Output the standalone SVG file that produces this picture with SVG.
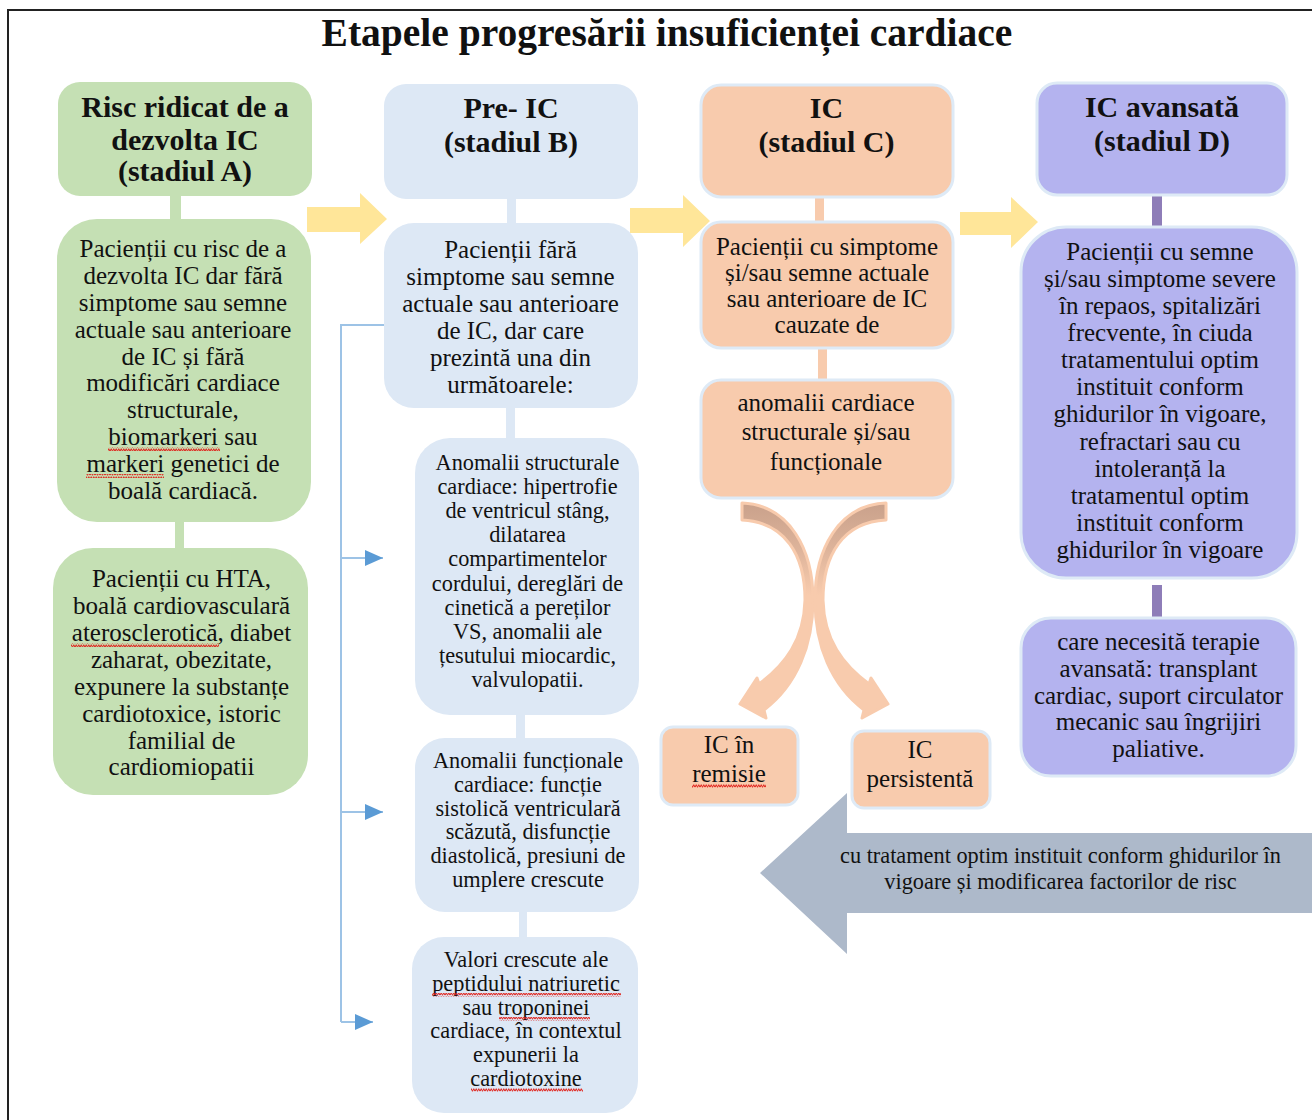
<svg xmlns="http://www.w3.org/2000/svg" width="1312" height="1120" viewBox="0 0 1312 1120">
<style>
.t{font-family:"Liberation Serif","Times New Roman",serif;fill:#111;text-anchor:middle}
.ti{font-size:39.5px;font-weight:bold}
.h{font-size:30px;font-weight:bold}
.b{font-size:25px}
.s{font-size:22.3px}
.gr{fill:#C5E0B4}
.bl{fill:#DDE8F5}
.pe{fill:#F8CBAD;stroke:#DEEAF6;stroke-width:3}
.pu{fill:#B4B3EF;stroke:#DEEAF6;stroke-width:3}
.ya{fill:#FFE699}
.br{fill:none;stroke:#9DC3E6;stroke-width:2}
.sq{fill:url(#squig)}
</style>
<defs>
<pattern id="squig" patternUnits="userSpaceOnUse" width="5" height="4">
<polyline points="0,3.3 1.25,0.7 2.5,3.3 3.75,0.7 5,3.3" fill="none" stroke="#E0201A" stroke-width="1"/>
</pattern>
<marker id="ah" viewBox="0 0 18 16" refX="18" refY="8" markerWidth="18" markerHeight="16" markerUnits="userSpaceOnUse" orient="auto">
<path d="M0 0 L18 8 L0 16 Z" fill="#5B9BD5"/>
</marker>
<linearGradient id="cg" gradientUnits="userSpaceOnUse" x1="0" y1="503" x2="0" y2="595">
<stop offset="0" stop-color="#C9A18B"/>
<stop offset="0.5" stop-color="#DDB39A"/>
<stop offset="1" stop-color="#F8CBAD"/>
</linearGradient>
</defs>
<rect x="0" y="0" width="1312" height="1120" fill="#fff"/>
<rect x="8" y="10" width="1340" height="1140" fill="none" stroke="#222" stroke-width="2"/>
<text class="t ti" x="667" y="46">Etapele progresării insuficienței cardiace</text>

<g id="connectors">
<rect x="170" y="195" width="11" height="26" fill="#C5E0B4"/>
<rect x="175" y="520" width="9" height="30" fill="#C5E0B4"/>
<rect x="507" y="198" width="9" height="27" fill="#DDE8F5"/>
<rect x="506" y="406" width="9" height="34" fill="#DDE8F5"/>
<rect x="516" y="713" width="9" height="27" fill="#DDE8F5"/>
<rect x="519" y="909" width="8" height="30" fill="#DDE8F5"/>
<rect x="815" y="197" width="9" height="25" fill="#F8CBAD"/>
<rect x="818" y="348" width="9" height="32" fill="#F8CBAD"/>
<rect x="1152" y="195" width="10" height="32" fill="#8E7DB8"/>
<rect x="1152" y="585" width="10" height="32" fill="#8E7DB8"/>
<polygon class="ya" points="307,207 360,207 360,193 387,219 360,244 360,232 307,232"/>
<polygon class="ya" points="630,208 683,208 683,195 710,221 683,247 683,233 630,233"/>
<polygon class="ya" points="960,212 1011,212 1011,197 1038,222 1011,248 1011,235 960,235"/>
<path class="br" d="M384 325 H341 V1022"/>
<line class="br" x1="341" y1="558" x2="383" y2="558" marker-end="url(#ah)"/>
<line class="br" x1="341" y1="812" x2="383" y2="812" marker-end="url(#ah)"/>
<line class="br" x1="341" y1="1022" x2="373" y2="1022" marker-end="url(#ah)"/>
<path id="curve-left" d="M742 503 C790 505 813 550 813 600 C813 645 797 685 764 710 L766 718 L740 704 L757 678 L759 684 C785 665 804 640 805 600 C805 555 785 522 742 520 Z" fill="url(#cg)" stroke="#F8CBAD" stroke-width="3" stroke-linejoin="round"/>
<path id="curve-right" transform="matrix(-1 0 0 1 1628 0)" d="M742 503 C790 505 813 550 813 600 C813 645 797 685 764 710 L766 718 L740 704 L757 678 L759 684 C785 665 804 640 805 600 C805 555 785 522 742 520 Z" fill="url(#cg)" stroke="#F8CBAD" stroke-width="3" stroke-linejoin="round"/>
</g>

<g id="nodeA-header">
<rect class="gr" x="58" y="82" width="254" height="114" rx="22"/>
<text class="t h"><tspan x="185" y="117">Risc ridicat de a</tspan><tspan x="185" y="150">dezvolta IC</tspan><tspan x="185" y="181">(stadiul A)</tspan></text>
</g>
<g id="nodeA-1">
<rect class="gr" x="57" y="219" width="254" height="303" rx="40"/>
<text class="t b"><tspan x="183" y="257">Pacienții cu risc de a</tspan><tspan x="183" y="284">dezvolta IC dar fără</tspan><tspan x="183" y="311">simptome sau semne</tspan><tspan x="183" y="338">actuale sau anterioare</tspan><tspan x="183" y="365">de IC și fără</tspan><tspan x="183" y="391">modificări cardiace</tspan><tspan x="183" y="418">structurale,</tspan><tspan x="183" y="445">biomarkeri sau</tspan><tspan x="183" y="472">markeri genetici de</tspan><tspan x="183" y="499">boală cardiacă.</tspan></text>
<rect class="sq" x="108" y="447" width="112" height="4"/>
<rect class="sq" x="86" y="474" width="78" height="4"/>
</g>
<g id="nodeA-2">
<rect class="gr" x="53" y="548" width="255" height="247" rx="40"/>
<text class="t b"><tspan x="181.5" y="587">Pacienții cu HTA,</tspan><tspan x="181.5" y="614">boală cardiovasculară</tspan><tspan x="181.5" y="641">aterosclerotică, diabet</tspan><tspan x="181.5" y="668">zaharat, obezitate,</tspan><tspan x="181.5" y="695">expunere la substanțe</tspan><tspan x="181.5" y="722">cardiotoxice, istoric</tspan><tspan x="181.5" y="749">familial de</tspan><tspan x="181.5" y="775">cardiomiopatii</tspan></text>
<rect class="sq" x="71" y="643" width="148" height="4"/>
</g>

<g id="nodeB-header">
<rect class="bl" x="384" y="84" width="254" height="115" rx="22"/>
<text class="t h"><tspan x="511" y="118">Pre- IC</tspan><tspan x="511" y="152">(stadiul B)</tspan></text>
</g>
<g id="nodeB-1">
<rect class="bl" x="384" y="223" width="254" height="185" rx="30"/>
<text class="t b"><tspan x="510.5" y="258">Pacienții fără</tspan><tspan x="510.5" y="285">simptome sau semne</tspan><tspan x="510.5" y="312">actuale sau anterioare</tspan><tspan x="510.5" y="339">de IC, dar care</tspan><tspan x="510.5" y="366">prezintă una din</tspan><tspan x="510.5" y="393">următoarele:</tspan></text>
</g>
<g id="nodeB-2">
<rect class="bl" x="415" y="438" width="224" height="277" rx="35"/>
<text class="t s"><tspan x="527.5" y="470">Anomalii structurale</tspan><tspan x="527.5" y="494">cardiace: hipertrofie</tspan><tspan x="527.5" y="518">de ventricul stâng,</tspan><tspan x="527.5" y="542">dilatarea</tspan><tspan x="527.5" y="566">compartimentelor</tspan><tspan x="527.5" y="591">cordului, dereglări de</tspan><tspan x="527.5" y="615">cinetică a pereților</tspan><tspan x="527.5" y="639">VS,  anomalii ale</tspan><tspan x="527.5" y="663">țesutului miocardic,</tspan><tspan x="527.5" y="687">valvulopatii.</tspan></text>
</g>
<g id="nodeB-3">
<rect class="bl" x="415" y="738" width="224" height="174" rx="30"/>
<text class="t s"><tspan x="528" y="768">Anomalii funcționale</tspan><tspan x="528" y="792">cardiace: funcție</tspan><tspan x="528" y="816">sistolică ventriculară</tspan><tspan x="528" y="839">scăzută, disfuncție</tspan><tspan x="528" y="863">diastolică, presiuni de</tspan><tspan x="528" y="887">umplere crescute</tspan></text>
</g>
<g id="nodeB-4">
<rect class="bl" x="412" y="937" width="226" height="176" rx="32"/>
<text class="t s"><tspan x="526" y="967">Valori crescute ale</tspan><tspan x="526" y="991">peptidului natriuretic</tspan><tspan x="526" y="1015">sau troponinei</tspan><tspan x="526" y="1038">cardiace, în contextul</tspan><tspan x="526" y="1062">expunerii la</tspan><tspan x="526" y="1086">cardiotoxine</tspan></text>
<rect class="sq" x="432" y="993" width="189" height="4"/>
<rect class="sq" x="499" y="1017" width="91" height="4"/>
<rect class="sq" x="471" y="1088" width="112" height="4"/>
</g>

<g id="nodeC-header">
<rect class="pe" x="701" y="85" width="252" height="112" rx="20"/>
<text class="t h"><tspan x="826.5" y="118">IC</tspan><tspan x="826.5" y="152">(stadiul C)</tspan></text>
</g>
<g id="nodeC-1">
<rect class="pe" x="701" y="222" width="252" height="126" rx="20"/>
<text class="t b"><tspan x="827" y="255">Pacienții cu simptome</tspan><tspan x="827" y="281">și/sau semne actuale</tspan><tspan x="827" y="307">sau anterioare de IC</tspan><tspan x="827" y="333">cauzate de</tspan></text>
</g>
<g id="nodeC-2">
<rect class="pe" x="701" y="380" width="252" height="118" rx="20"/>
<text class="t b"><tspan x="826" y="411">anomalii cardiace</tspan><tspan x="826" y="440">structurale și/sau</tspan><tspan x="826" y="470">funcționale</tspan></text>
</g>
<g id="nodeC-remisie">
<rect class="pe" x="661" y="727" width="137" height="78" rx="12"/>
<text class="t b"><tspan x="729" y="753">IC în</tspan><tspan x="729" y="782">remisie</tspan></text>
<rect class="sq" x="692" y="784" width="74" height="4"/>
</g>
<g id="nodeC-persistenta">
<rect class="pe" x="852" y="731" width="138" height="77" rx="12"/>
<text class="t b"><tspan x="920" y="758">IC</tspan><tspan x="920" y="787">persistentă</tspan></text>
</g>

<g id="nodeD-header">
<rect class="pu" x="1037" y="83" width="250" height="112" rx="20"/>
<text class="t h"><tspan x="1162" y="117">IC avansată</tspan><tspan x="1162" y="151">(stadiul D)</tspan></text>
</g>
<g id="nodeD-1">
<rect class="pu" x="1021" y="227" width="276" height="351" rx="45"/>
<text class="t b"><tspan x="1160" y="260">Pacienții cu semne</tspan><tspan x="1160" y="287">și/sau simptome severe</tspan><tspan x="1160" y="314">în repaos, spitalizări</tspan><tspan x="1160" y="341">frecvente, în ciuda</tspan><tspan x="1160" y="368">tratamentului optim</tspan><tspan x="1160" y="395">instituit conform</tspan><tspan x="1160" y="422">ghidurilor în vigoare,</tspan><tspan x="1160" y="450">refractari sau cu</tspan><tspan x="1160" y="477">intoleranță la</tspan><tspan x="1160" y="504">tratamentul optim</tspan><tspan x="1160" y="531">instituit conform</tspan><tspan x="1160" y="558">ghidurilor în vigoare</tspan></text>
</g>
<g id="nodeD-2">
<rect class="pu" x="1021" y="618" width="275" height="158" rx="30"/>
<text class="t b"><tspan x="1158.5" y="650">care necesită terapie</tspan><tspan x="1158.5" y="677">avansată: transplant</tspan><tspan x="1158.5" y="704">cardiac, suport circulator</tspan><tspan x="1158.5" y="730">mecanic sau îngrijiri</tspan><tspan x="1158.5" y="757">paliative.</tspan></text>
</g>

<g id="node-treatment-arrow">
<polygon points="760,873 847,793 847,833 1330,833 1330,913 847,913 847,954" fill="#ADB9CA"/>
<text class="t s"><tspan x="1060.5" y="863">cu tratament optim instituit conform ghidurilor în</tspan><tspan x="1060.5" y="889">vigoare și modificarea factorilor de risc</tspan></text>
</g>
</svg>
